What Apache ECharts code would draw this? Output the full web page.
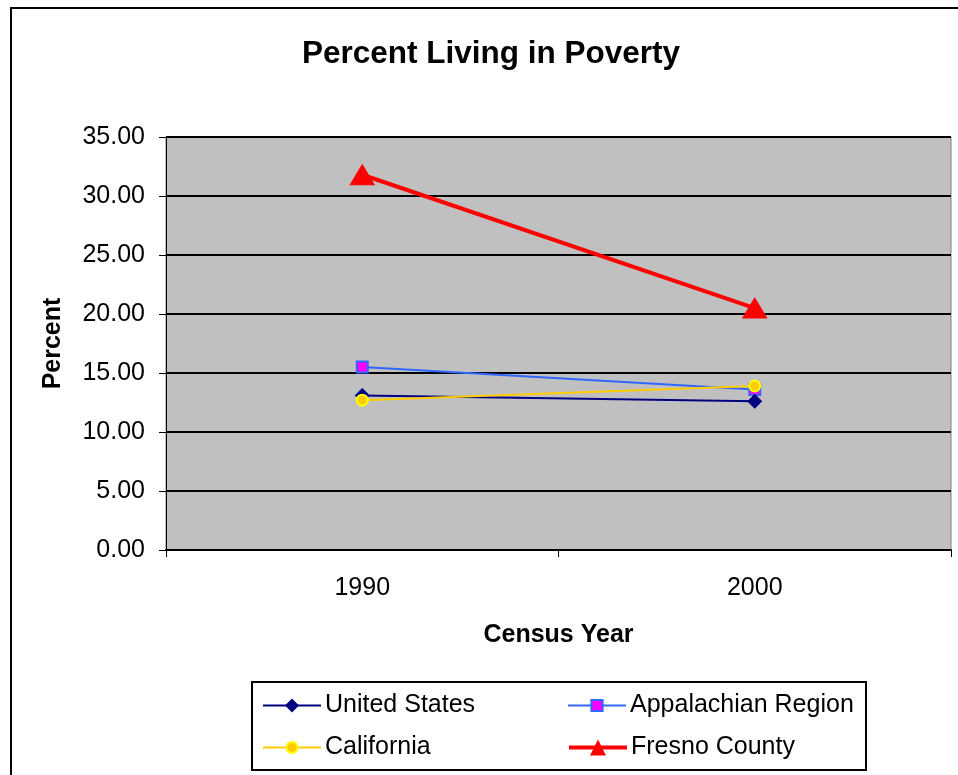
<!DOCTYPE html>
<html>
<head>
<meta charset="utf-8">
<script src="https://cdn.jsdelivr.net/npm/echarts@6/dist/echarts.min.js"></script>
<style>
  html, body { margin: 0; padding: 0; background: #fff; }
  #chart { width: 958px; height: 775px; }
</style>
</head>
<body>
<div id="chart"></div>
<script>
// Census years on the category axis
const years = ['1990', '2000'];

// Percent of population below the poverty line
const unitedStates = [13.1, 12.6];
const appalachian = [15.5, 13.6];
const california = [12.7, 13.9];
const fresno = [31.8, 20.5];

const FONT = 'Liberation Sans, Arial, sans-serif';

const chart = echarts.init(document.getElementById('chart'));

function legendAt(name, left, top, iconHeight, lineWidth) {
  return {
    data: [name],
    left: left,
    top: top,
    orient: 'horizontal',
    itemWidth: 58,
    itemHeight: iconHeight,
    itemGap: 0,
    padding: 0,
    lineStyle: { width: lineWidth },
    textStyle: { fontFamily: FONT, fontSize: 25, color: '#000', padding: [0, 0, 0, -1] },
    selectedMode: false
  };
}

chart.setOption({
  animation: false,
  backgroundColor: '#fff',
  title: {
    text: 'Percent Living in Poverty',
    left: 486,
    top: 33,
    textAlign: 'center',
    textStyle: { fontFamily: FONT, fontSize: 31.5, fontWeight: 'bold', color: '#000' }
  },
  grid: {
    left: 166,
    right: 7,
    top: 137,
    bottom: 225,
    show: true,
    backgroundColor: '#C0C0C0',
    borderColor: '#808080',
    borderWidth: 1
  },
  legend: [
    legendAt('United States', 262, 693, 14, 2),
    legendAt('Appalachian Region', 567, 693, 14, 2),
    legendAt('California', 262, 735, 14, 2),
    legendAt('Fresno County', 567, 735, 20, 4)
  ],
  xAxis: {
    type: 'category',
    data: years,
    boundaryGap: true,
    name: 'Census Year',
    nameLocation: 'middle',
    nameGap: 73,
    nameTextStyle: { fontFamily: FONT, fontSize: 25, fontWeight: 'bold', color: '#000' },
    axisLine: { lineStyle: { color: '#000', width: 2 } },
    axisTick: { show: true, inside: false, length: 7, lineStyle: { color: '#000', width: 1 } },
    axisLabel: { fontFamily: FONT, fontSize: 25, color: '#000', margin: 26 },
    splitLine: { show: false }
  },
  yAxis: {
    type: 'value',
    min: 0,
    max: 35,
    interval: 5,
    name: 'Percent',
    nameLocation: 'middle',
    nameGap: 100,
    nameRotate: 90,
    nameTextStyle: { fontFamily: FONT, fontSize: 25, fontWeight: 'bold', color: '#000' },
    axisLine: { show: true, lineStyle: { color: '#000', width: 1 } },
    axisTick: { show: true, inside: false, length: 7, lineStyle: { color: '#000', width: 1 } },
    axisLabel: {
      fontFamily: FONT, fontSize: 25, color: '#000', margin: 21,
      formatter: v => v.toFixed(2)
    },
    splitLine: { show: true, lineStyle: { color: '#000', width: 2 } }
  },
  series: [
    {
      name: 'United States',
      type: 'line',
      data: unitedStates,
      symbol: 'diamond',
      symbolSize: 14,
      lineStyle: { color: '#000080', width: 2 },
      itemStyle: { color: '#000080', borderColor: '#000080', borderWidth: 1 },
      z: 3
    },
    {
      name: 'Appalachian Region',
      type: 'line',
      data: appalachian,
      symbol: 'rect',
      symbolSize: 11,
      lineStyle: { color: '#3366FF', width: 2 },
      itemStyle: { color: '#FF00FF', borderColor: '#3366FF', borderWidth: 2 },
      z: 2
    },
    {
      name: 'California',
      type: 'line',
      data: california,
      symbol: 'circle',
      symbolSize: 11,
      lineStyle: { color: '#FFCC00', width: 2 },
      itemStyle: { color: '#FFCC00', borderColor: '#FFFF00', borderWidth: 2 },
      z: 4
    },
    {
      name: 'Fresno County',
      type: 'line',
      data: fresno,
      symbol: 'triangle',
      symbolSize: [24, 20],
      lineStyle: { color: '#FF0000', width: 4 },
      itemStyle: { color: '#FF0000', borderColor: '#FF0000' },
      z: 5
    }
  ],
  graphic: [
    {
      type: 'rect',
      silent: true,
      shape: { x: 11, y: 8, width: 1000, height: 1000 },
      style: { fill: 'none', stroke: '#000', lineWidth: 2 }
    },
    {
      type: 'rect',
      silent: true,
      shape: { x: 252, y: 682, width: 614, height: 88 },
      style: { fill: 'none', stroke: '#000', lineWidth: 2 }
    }
  ]
});
</script>
</body>
</html>
